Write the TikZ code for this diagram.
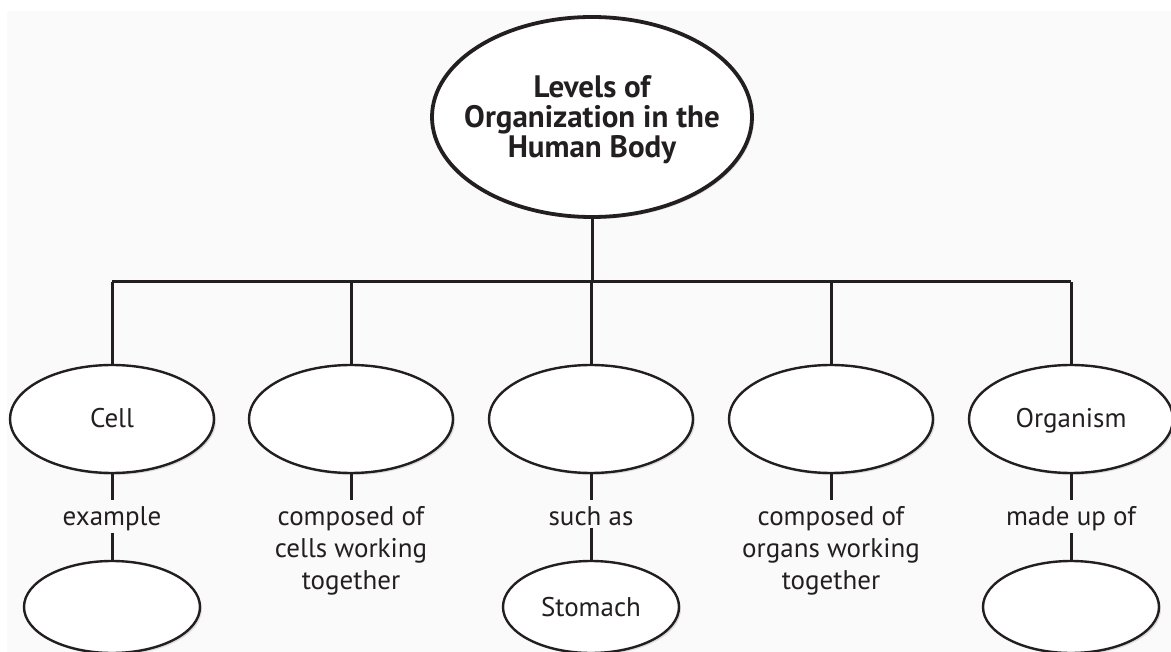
\documentclass[tikz,border=0pt]{standalone}
\usepackage{fontspec}
\setmainfont{PT Sans}
\usetikzlibrary{shapes.geometric,shadows}
\definecolor{ink}{HTML}{231F20}
\definecolor{paper}{HTML}{FAFAFA}
\begin{document}
\begin{tikzpicture}[x=1pt, y=-1pt,
    bubble/.style={draw=ink, ellipse, fill=white, line width=2.4pt, inner sep=0pt,
        minimum width=204pt, minimum height=108pt, text height=19pt, text depth=1pt,
        drop shadow={shadow xshift=2pt, shadow yshift=-2pt, opacity=.25},
        font=\fontsize{27}{32}\selectfont, text=ink},
    leaf/.style={bubble, minimum width=176pt, minimum height=92pt},
    word/.style={anchor=north, inner sep=0pt, align=center, text=ink,
        font=\fontsize{27}{32}\selectfont},
    link/.style={draw=ink, line width=3pt}]
    \useasboundingbox (0,0) rectangle (1171,652);
    \fill[paper] (7,11) rectangle (1171,652);

    % Top concept
    \node[bubble, line width=3.8pt, minimum width=320pt, minimum height=200pt] (title) at (592,117) {};
    \node[text=ink, align=center, font=\fontsize{31}{30}\selectfont\bfseries] (titletxt) at (592,120)
        {Levels of\\Organization in the\\Human Body};

    % Levels
    \node[bubble] (cell) at (112,419) {Cell};
    \node[bubble] (tissue) at (351,419) {};
    \node[bubble] (organ) at (591,419) {};
    \node[bubble] (system) at (831,419) {};
    \node[bubble] (organism) at (1071,419) {Organism};

    % Linking words
    \node[word] (w1) at (112,506) {example};
    \node[word] (w2) at (351,506) {composed of\\cells working\\together};
    \node[word] (w3) at (591,506) {such as};
    \node[word] (w4) at (831,506) {composed of\\organs working\\together};
    \node[word] (w5) at (1071,506) {made up of};

    % Examples
    \node[leaf] (cellex) at (112,607) {};
    \node[leaf] (stomach) at (591,607) {Stomach};
    \node[leaf] (organex) at (1071,607) {};

    % Bus
    \coordinate (bus) at (592,282);
    \draw[link] (title.south) -- (bus);
    \draw[link] (cell.north |- bus) -- (organism.north |- bus);
    \foreach \n in {cell,tissue,organ,system,organism}
        \draw[link] (\n.north) -- (\n.north |- bus);

    \foreach \a/\b in {cell/w1,tissue/w2,organ/w3,system/w4,organism/w5}
        \draw[link] (\a.south) -- ([yshift=6pt]\b.north);
    \draw[link] ([yshift=-2pt]w1.south) -- (cellex.north);
    \draw[link] ([yshift=-2pt]w3.south) -- (stomach.north);
    \draw[link] ([yshift=-2pt]w5.south) -- (organex.north);
\end{tikzpicture}
\end{document}
